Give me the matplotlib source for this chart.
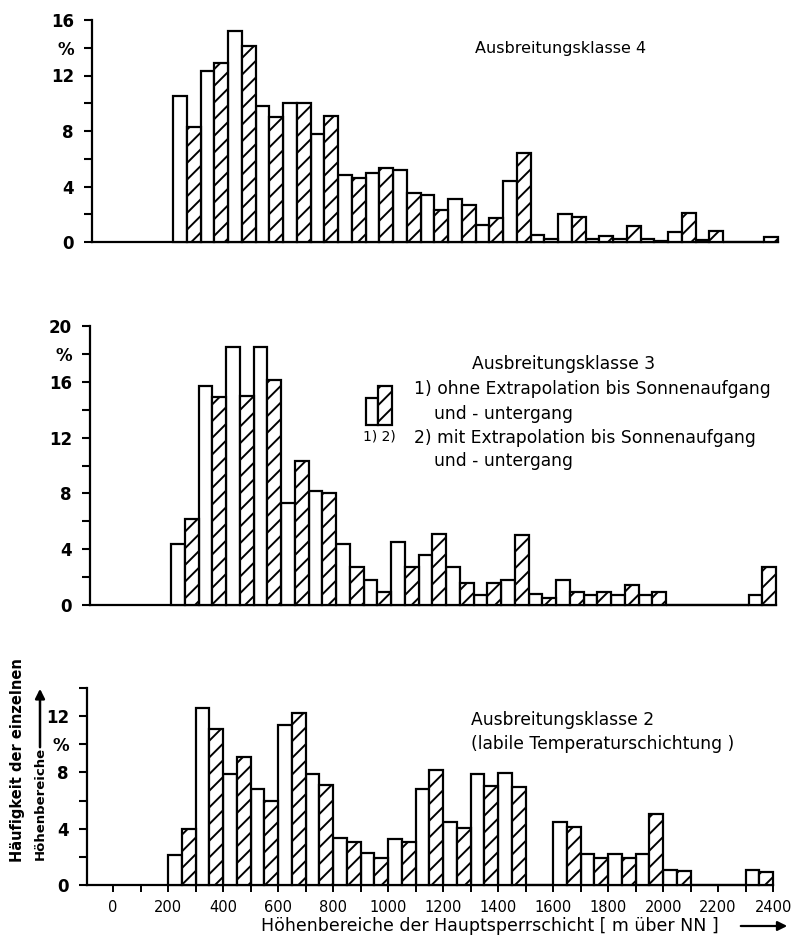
import matplotlib.pyplot as plt
from matplotlib.patches import Rectangle, FancyArrowPatch
import numpy as np

plt.rcParams['font.family'] = ['DejaVu Sans']
plt.rcParams['hatch.linewidth'] = 1.4

# Klassenanfang der Hoehenbereiche in m (je 100 m, ohne / mit Extrapolation je 50 m breit)
bins = list(range(200, 2400, 100))

# Ausbreitungsklasse 4
k4_ohne = [10.5, 12.3, 15.2, 9.8, 10.0, 7.8, 4.8, 5.0, 5.2, 3.4, 3.1,
           1.2, 4.4, 0.5, 2.0, 0.25, 0.25, 0.2, 0.7, 0.15, 0.0, 0.0]
k4_mit = [8.3, 12.9, 14.1, 9.0, 10.0, 9.1, 4.6, 5.3, 3.5, 2.3, 2.7,
          1.7, 6.4, 0.2, 1.8, 0.4, 1.15, 0.1, 2.1, 0.8, 0.0, 0.35]

# Ausbreitungsklasse 3
k3_ohne = [4.4, 15.7, 18.5, 18.5, 7.3, 8.2, 4.4, 1.8, 4.5, 3.6, 2.7,
           0.75, 1.8, 0.8, 1.8, 0.7, 0.7, 0.7, 0.0, 0.0, 0.0, 0.7]
k3_mit = [6.2, 14.9, 15.0, 16.1, 10.3, 8.0, 2.75, 0.95, 2.75, 5.1, 1.55,
          1.55, 5.0, 0.5, 0.9, 0.9, 1.4, 0.9, 0.0, 0.0, 0.0, 2.7]

# Ausbreitungsklasse 2
k2_ohne = [2.15, 12.6, 7.9, 6.8, 11.4, 7.9, 3.35, 2.3, 3.3, 6.8, 4.5,
           7.9, 7.95, 0.0, 4.5, 2.2, 2.2, 2.2, 1.1, 0.0, 0.0, 1.05]
k2_mit = [4.0, 11.1, 9.1, 6.0, 12.2, 7.1, 3.05, 1.9, 3.05, 8.2, 4.05,
          7.05, 7.0, 0.0, 4.1, 1.9, 1.9, 5.05, 1.0, 0.0, 0.0, 0.9]

x_ticks = list(range(0, 2401, 100))
x_labels = [str(v) if v % 200 == 0 else '' for v in x_ticks]

W, H = 793, 944
fig = plt.figure(figsize=(W / 100, H / 100), dpi=100)


def fx(x):
    return x / W


def fy(y):
    return 1 - y / H


def panel(left, base, top, ymax, pct, ohne, mit, xlabels=False):
    ax = fig.add_axes([fx(left), fy(base), 687.5 / W, (base - top) / H])
    x = np.array(bins)
    ax.bar(x, ohne, width=50, align='edge', facecolor='white',
           edgecolor='black', linewidth=1.6, clip_on=False, zorder=3)
    ax.bar(x + 50, mit, width=50, align='edge', facecolor='white',
           edgecolor='black', hatch='//', linewidth=1.6, clip_on=False, zorder=3)
    ax.set_xlim(-95, 2405)
    ax.set_ylim(0, ymax)
    for s in ['top', 'right']:
        ax.spines[s].set_visible(False)
    for s in ['left', 'bottom']:
        ax.spines[s].set_linewidth(1.6)
    ax.spines['bottom'].set_bounds(-95, 2400)
    yt = list(range(0, ymax + 1, 2))
    ylab = []
    for v in yt:
        if v == pct:
            ylab.append('%')
        elif v % 4 == 0:
            ylab.append(str(v))
        else:
            ylab.append('')
    ax.set_yticks(yt)
    ax.set_yticklabels(ylab, fontsize=12, fontweight='bold')
    ax.tick_params(axis='y', direction='out', length=6, width=1.5, pad=7)
    if xlabels:
        ax.set_xticks(x_ticks)
        ax.set_xticklabels(x_labels, fontsize=10.5)
        ax.tick_params(axis='x', direction='out', length=5, width=1.4, pad=6)
    else:
        ax.set_xticks([])
    return ax


ax1 = panel(92, 242, 20, 16, 14, k4_ohne, k4_mit)
ax2 = panel(90, 605, 326, 20, 18, k3_ohne, k3_mit)
ax3 = panel(87, 885, 688, 14, 10, k2_ohne, k2_mit, xlabels=True)

fig.text(fx(475), fy(48), 'Ausbreitungsklasse 4', fontsize=11.5, ha='left', va='center')

txt = dict(fontsize=12.3, ha='left', va='center')
fig.text(fx(472), fy(364), 'Ausbreitungsklasse 3', **txt)
fig.text(fx(414), fy(389), '1) ohne Extrapolation bis Sonnenaufgang', **txt)
fig.text(fx(434), fy(414), 'und - untergang', **txt)
fig.text(fx(414), fy(438), '2) mit Extrapolation bis Sonnenaufgang', **txt)
fig.text(fx(434), fy(461), 'und - untergang', **txt)
fig.text(fx(471), fy(720), 'Ausbreitungsklasse 2', **txt)
fig.text(fx(471), fy(744), '(labile Temperaturschichtung )', **txt)

# kleine Legende: offen = 1), schraffiert = 2)
fig.add_artist(Rectangle((fx(366), fy(425)), 12 / W, 27 / H, transform=fig.transFigure,
                         facecolor='white', edgecolor='black', linewidth=1.6))
fig.add_artist(Rectangle((fx(378), fy(425)), 14 / W, 39 / H, transform=fig.transFigure,
                         facecolor='white', edgecolor='black', hatch='//', linewidth=1.6))
fig.text(fx(379), fy(436), '1) 2)', fontsize=10, ha='center', va='center')

# Achsenbeschriftungen mit Pfeilen
fig.text(fx(490), fy(926), 'Höhenbereiche der Hauptsperrschicht [ m über NN ]',
         fontsize=12.5, ha='center', va='center')
fig.add_artist(FancyArrowPatch((fx(738), fy(926)), (fx(790), fy(926)),
                               transform=fig.transFigure, arrowstyle='-|>',
                               mutation_scale=14, linewidth=1.6, color='black'))

fig.text(fx(18), fy(760), 'Häufigkeit der einzelnen', fontsize=10.5,
         fontweight='bold', rotation=90, ha='center', va='center')
fig.text(fx(40), fy(803), 'Höhenbereiche', fontsize=9.5,
         fontweight='bold', rotation=90, ha='center', va='center')
fig.add_artist(FancyArrowPatch((fx(40), fy(750)), (fx(40), fy(686)),
                               transform=fig.transFigure, arrowstyle='-|>',
                               mutation_scale=14, linewidth=1.8, color='black'))

fig.savefig('out.png', dpi=100, facecolor='white')
